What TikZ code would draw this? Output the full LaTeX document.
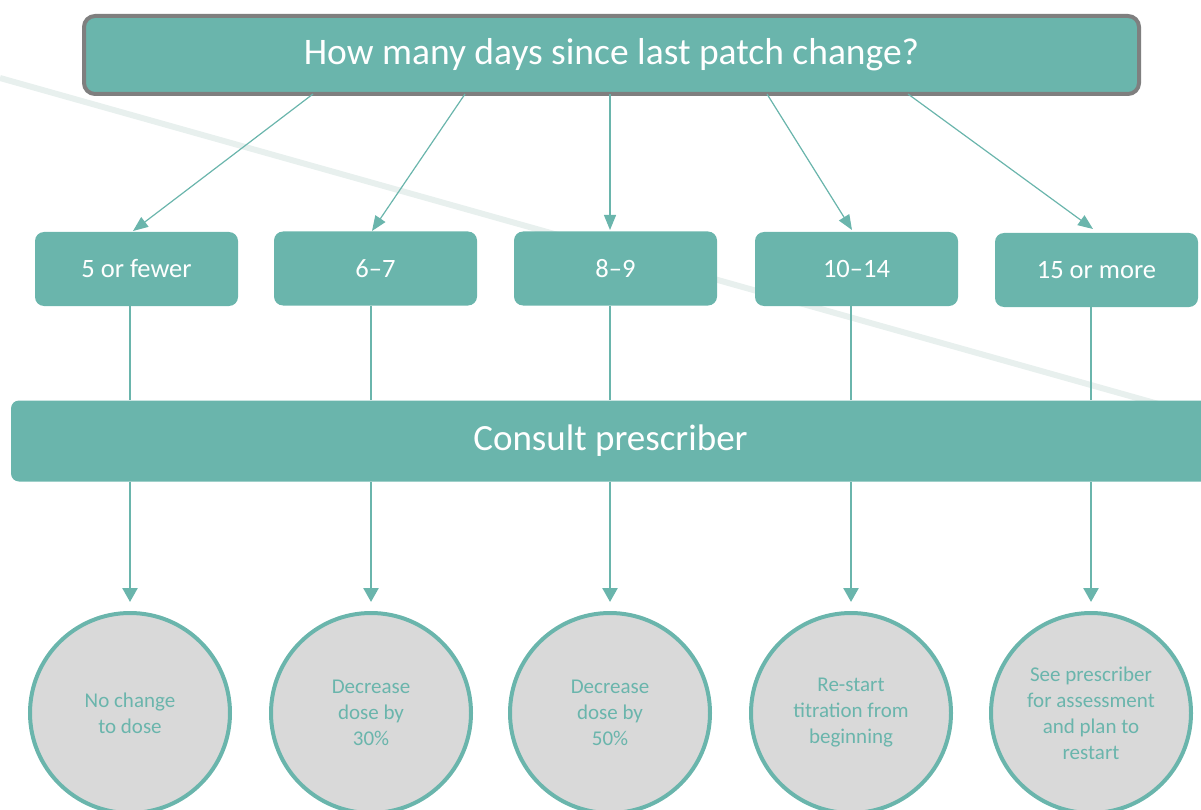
\documentclass[tikz,border=0pt]{standalone}
\usepackage{fontspec}
\setmainfont{Carlito}
\usetikzlibrary{arrows.meta}
\definecolor{teal1}{HTML}{6AB5AC}
\definecolor{greyfill}{HTML}{D9D9D9}
\definecolor{greyline}{HTML}{7F7F7F}
\definecolor{streak}{HTML}{E8F0EE}
\tikzset{
  question/.style={draw=greyline, line width=4pt, fill=teal1, rounded corners=11pt,
    minimum width=1055pt, minimum height=78pt, text=white, font=\fontsize{37.5}{44}\selectfont,
    inner sep=0pt},
  daybox/.style={fill=teal1, rounded corners=9pt, minimum width=203pt, minimum height=74pt,
    text=white, font=\fontsize{26.5}{30}\selectfont, inner sep=0pt},
  consult/.style={fill=teal1, rounded corners=8pt, minimum width=1199pt, minimum height=81pt,
    text=white, font=\fontsize{37}{44}\selectfont, inner sep=0pt},
  outcome/.style={circle, draw=teal1, line width=4pt, fill=greyfill, minimum size=200pt,
    text=teal1, align=center, font=\fontsize{21}{26}\selectfont, inner sep=0pt},
  thinarrow/.style={draw=teal1, line width=1.2pt, -{Triangle[length=15pt,width=12pt]}},
  drop/.style={draw=teal1, line width=2.6pt},
  droparrow/.style={draw=teal1, line width=2.6pt, -{Triangle[length=14pt,width=15pt]}},
}
\begin{document}
\begin{tikzpicture}[x=1pt, y=-1pt]
  \useasboundingbox (0,0) rectangle (1201,810);
  % faint background streak
  \draw[streak, line width=6pt] (0,78) -- (1201,416);

  % question box
  \node[question] (top) at (611.5,55) {\raisebox{-3pt}{How many days since last patch change?}};

  % day ranges
  \node[daybox] (c1) at (136.5,269) {5 or fewer};
  \node[daybox] (c2) at (375.5,268.5) {6–7};
  \node[daybox] (c3) at (615.5,268.5) {8–9};
  \node[daybox] (c4) at (856.5,269) {10–14};
  \node[daybox] (c5) at (1096.5,270) {15 or more};

  % branch start points on the question box
  \coordinate (t1) at (313,94);
  \coordinate (t2) at (465,94);
  \coordinate (t3) at (610,94);
  \coordinate (t4) at (767,94);
  \coordinate (t5) at (908,94);
  \coordinate (e1) at (133,231);
  \coordinate (e2) at (372,231);
  \coordinate (e3) at (610,230);
  \coordinate (e4) at (852,230);
  \coordinate (e5) at (1093,229);
  \foreach \i in {1,...,5} { \draw[thinarrow] (t\i) -- (e\i); }

  % consult bar
  \node[consult] (bar) at (610.5,441) {Consult prescriber};

  % outcomes
  \node[outcome] (r1) at (130,713) {No change\\to dose};
  \node[outcome] (r2) at (371,713) {Decrease\\dose by\\30\%};
  \node[outcome] (r3) at (610,713) {Decrease\\dose by\\50\%};
  \node[outcome] (r4) at (851,713) {Re-start\\titration from\\beginning};
  \node[outcome] (r5) at (1091,713) {See prescriber\\for assessment\\and plan to\\restart};

  % connectors through the consult bar
  \foreach \i in {1,...,5} {
    \draw[drop] (c\i.south -| r\i.north) -- (bar.north -| r\i.north);
    \draw[droparrow] (bar.south -| r\i.north) -- ([yshift=9pt]r\i.north);
  }
\end{tikzpicture}
\end{document}
